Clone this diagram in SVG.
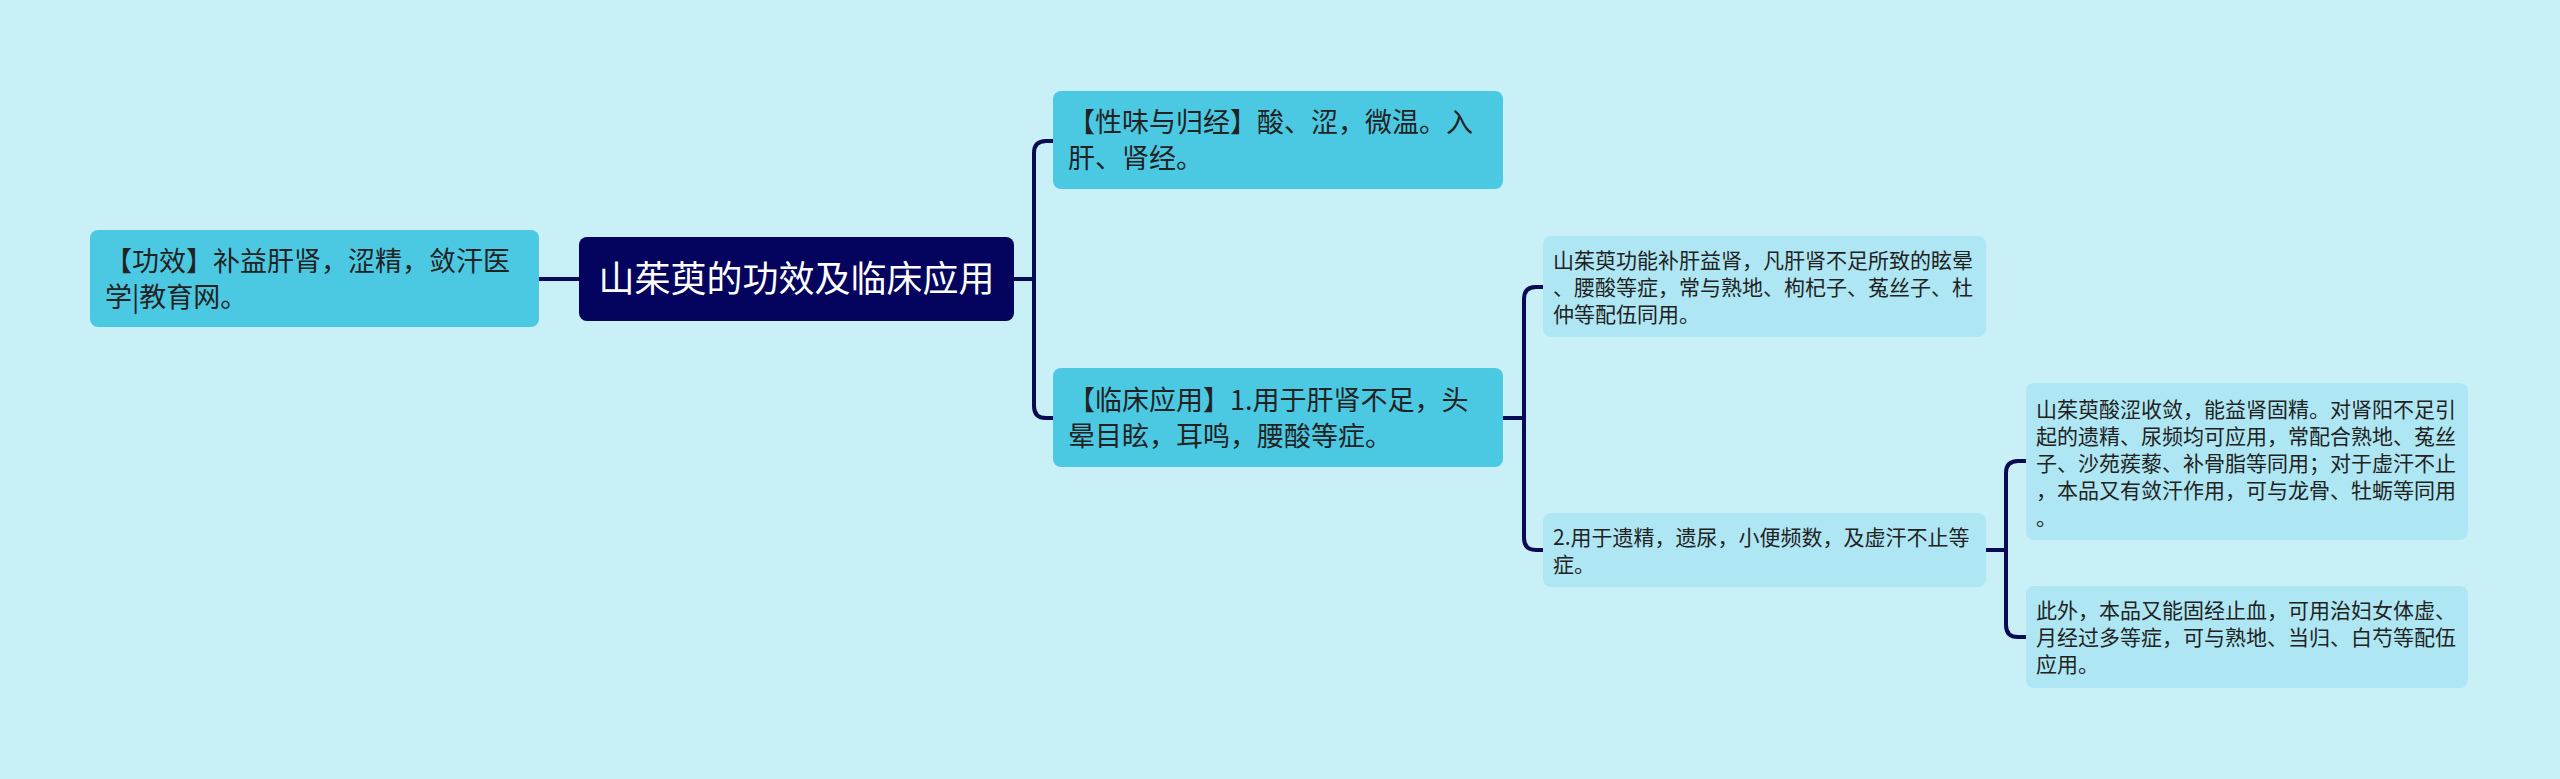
<svg xmlns="http://www.w3.org/2000/svg" width="2560" height="779" viewBox="0 0 2560 779">
<style>
.bg{fill:#C9F0F7}
.l1{fill:#4BC9E3}
.root{fill:#04045E}
.leaf{fill:#AEE7F3}
text{font-family:"Noto Sans CJK SC","Noto Sans",sans-serif;fill:#222}
.t27{font-size:27px}
.t21{font-size:21px}
.troot{font-size:36px;fill:#FFFFFF}
.conn{fill:none;stroke:#0B0B55;stroke-width:4}
</style>
<rect class="bg" x="0" y="0" width="2560" height="779"/>
<g id="connectors">
<path class="conn" d="M539,279 H580"/>
<path class="conn" d="M1014,279 H1034 M1034,279 V153 Q1034,141 1046,141 H1054 M1034,279 V406 Q1034,418 1046,418 H1054"/>
<path class="conn" d="M1503,418 H1524 M1524,418 V299 Q1524,287 1536,287 H1544 M1524,418 V538 Q1524,550 1536,550 H1544"/>
<path class="conn" d="M1986,550 H2006 M2006,550 V473 Q2006,461 2018,461 H2027 M2006,550 V625 Q2006,637 2018,637 H2027"/>
</g>
<g id="node-left">
<rect class="l1" x="90" y="230" width="449" height="97" rx="8"/>
<text class="t27" x="105" y="271">【功效】补益肝肾，涩精，敛汗医</text>
<text class="t27" x="105" y="307">学|教育网。</text>
</g>
<g id="node-root">
<rect class="root" x="579" y="237" width="435" height="84" rx="8"/>
<text class="troot" x="796.5" y="292" text-anchor="middle">山茱萸的功效及临床应用</text>
</g>
<g id="node-xingwei">
<rect class="l1" x="1053" y="91" width="450" height="98" rx="8"/>
<text class="t27" x="1068" y="132">【性味与归经】酸、涩，微温。入</text>
<text class="t27" x="1068" y="168">肝、肾经。</text>
</g>
<g id="node-linchuang">
<rect class="l1" x="1053" y="368" width="450" height="99" rx="8"/>
<text class="t27" x="1068" y="410">【临床应用】1.用于肝肾不足，头</text>
<text class="t27" x="1068" y="446">晕目眩，耳鸣，腰酸等症。</text>
</g>
<g id="node-leaf1">
<rect class="leaf" x="1543" y="236" width="443" height="101" rx="8"/>
<text class="t21" x="1553" y="268">山茱萸功能补肝益肾，凡肝肾不足所致的眩晕</text>
<text class="t21" x="1553" y="295">、腰酸等症，常与熟地、枸杞子、菟丝子、杜</text>
<text class="t21" x="1553" y="322">仲等配伍同用。</text>
</g>
<g id="node-leaf2">
<rect class="leaf" x="1543" y="513" width="443" height="74" rx="8"/>
<text class="t21" x="1553" y="545">2.用于遗精，遗尿，小便频数，及虚汗不止等</text>
<text class="t21" x="1553" y="572">症。</text>
</g>
<g id="node-leaf3">
<rect class="leaf" x="2026" y="383" width="442" height="157" rx="8"/>
<text class="t21" x="2036" y="417">山茱萸酸涩收敛，能益肾固精。对肾阳不足引</text>
<text class="t21" x="2036" y="444">起的遗精、尿频均可应用，常配合熟地、菟丝</text>
<text class="t21" x="2036" y="471">子、沙苑蒺藜、补骨脂等同用；对于虚汗不止</text>
<text class="t21" x="2036" y="498">，本品又有敛汗作用，可与龙骨、牡蛎等同用</text>
<text class="t21" x="2036" y="525">。</text>
</g>
<g id="node-leaf4">
<rect class="leaf" x="2026" y="586" width="442" height="102" rx="8"/>
<text class="t21" x="2036" y="618">此外，本品又能固经止血，可用治妇女体虚、</text>
<text class="t21" x="2036" y="645">月经过多等症，可与熟地、当归、白芍等配伍</text>
<text class="t21" x="2036" y="672">应用。</text>
</g>
</svg>
